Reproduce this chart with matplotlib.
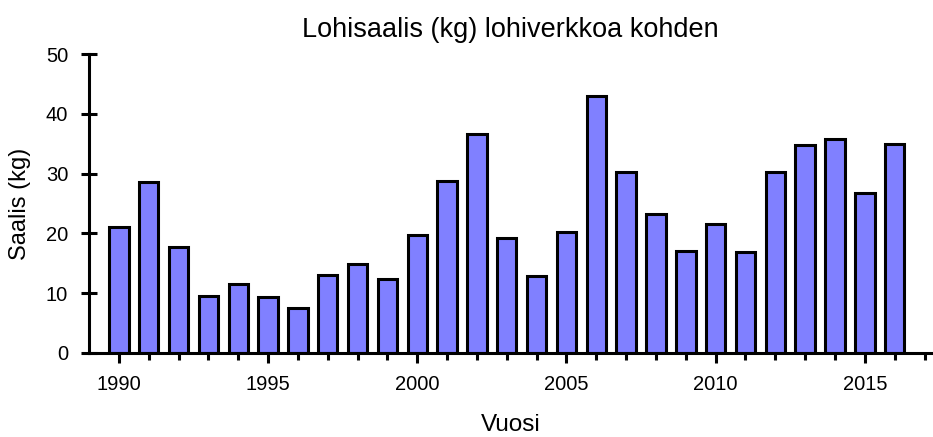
import matplotlib
matplotlib.use("Agg")
import matplotlib.pyplot as plt
import numpy as np

plt.rcParams["font.family"] = ["Liberation Sans", "DejaVu Sans"]

years = np.arange(1990, 2017)
catch_kg = [21.1, 28.6, 17.7, 9.6, 11.5, 9.35, 7.5, 13.0, 14.9, 12.4,
            19.7, 28.7, 36.7, 19.2, 12.85, 20.3, 43.0, 30.3, 23.3, 17.0,
            21.6, 16.9, 30.2, 34.7, 35.8, 26.7, 35.0]
major_years = [1990, 1995, 2000, 2005, 2010, 2015]

fig = plt.figure(figsize=(9.33, 4.37), dpi=100)
ax = fig.add_axes([89 / 933, 1 - 353 / 437, (932 - 89) / 933, (353 - 54) / 437])

ax.bar(years, catch_kg, width=0.65, color="#8080ff", edgecolor="black", linewidth=2.2)

ax.set_xlim(1989, 2017.25)
ax.set_ylim(0, 50)
ax.set_yticks(np.arange(0, 51, 10))
ax.set_xticks(major_years)
ax.set_xticks(np.arange(1990, 2018), minor=True)

for side in ("top", "right"):
    ax.spines[side].set_visible(False)
ax.spines["left"].set_linewidth(2.2)
ax.spines["bottom"].set_linewidth(2.2)

ax.tick_params(axis="y", direction="inout", length=12, width=2.2, labelsize=14.5, pad=9)
ax.tick_params(axis="x", which="major", direction="out", length=7, width=2.2, labelsize=14.5, pad=9)
ax.tick_params(axis="x", which="minor", direction="out", length=5, width=2.2)

ax.set_title("Lohisaalis (kg) lohiverkkoa kohden", fontsize=19.5, pad=12)
ax.set_xlabel("Vuosi", fontsize=17.5, labelpad=14)
ax.set_ylabel("Saalis (kg)", fontsize=17, labelpad=11)

fig.savefig("out.png", dpi=100)
